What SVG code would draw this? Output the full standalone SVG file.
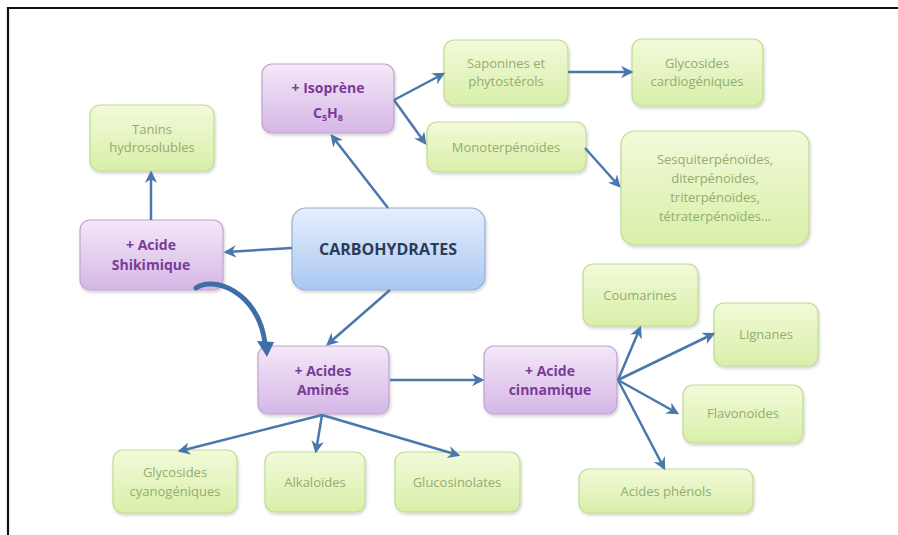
<svg xmlns="http://www.w3.org/2000/svg" width="898" height="535" viewBox="0 0 898 535">
<defs>
<linearGradient id="gG" x1="0" y1="0" x2="0" y2="1"><stop offset="0" stop-color="#f2fad9"/><stop offset="1" stop-color="#d9efa9"/></linearGradient>
<linearGradient id="gP" x1="0" y1="0" x2="0" y2="1"><stop offset="0" stop-color="#f4e8f8"/><stop offset="1" stop-color="#d5b7e6"/></linearGradient>
<linearGradient id="gB" x1="0" y1="0" x2="0" y2="1"><stop offset="0" stop-color="#e6effc"/><stop offset="1" stop-color="#a9c7f1"/></linearGradient>
<marker id="ah" viewBox="0 0 10 10" refX="8" refY="5" markerWidth="5" markerHeight="5" orient="auto" markerUnits="strokeWidth"><path d="M0,0 L10,5 L0,10 L3,5 Z" fill="#4a78ad"/></marker>
<filter id="sh" x="-10%" y="-10%" width="125%" height="130%"><feDropShadow dx="1" dy="2" stdDeviation="1.5" flood-color="#000" flood-opacity="0.18"/></filter>
</defs>
<style>
.g{fill:url(#gG);stroke:#bfdc93;stroke-width:1.2;filter:url(#sh)}
.p{fill:url(#gP);stroke:#bfa3cf;stroke-width:1.2;filter:url(#sh)}
.b{fill:url(#gB);stroke:#93afd6;stroke-width:1.2;filter:url(#sh)}
.tg{font-family:"Open Sans","Liberation Sans",sans-serif;font-size:13px;fill:#93ad70;text-anchor:middle}
.tp{font-family:"Open Sans","Liberation Sans",sans-serif;font-size:14px;font-weight:bold;fill:#7a3b98;text-anchor:middle}
.tb{font-family:"Open Sans","Liberation Sans",sans-serif;font-size:16px;font-weight:bold;fill:#2c3b57;text-anchor:middle}
.c{fill:none;stroke:#4a78ad;stroke-width:2.5;marker-end:url(#ah)}
</style>
<rect width="898" height="535" fill="#fff"/>
<path d="M8,535 V8 H898" fill="none" stroke="#111" stroke-width="2.2"/>

<g id="isoprene"><rect class="p" x="262" y="64" width="132" height="69" rx="10"/>
<text class="tp" x="328" y="93">+ Isoprène</text>
<text class="tp" x="328" y="118">C<tspan font-size="9" dy="3">5</tspan><tspan dy="-3">H</tspan><tspan font-size="9" dy="3">8</tspan></text></g>

<g id="saponines"><rect class="g" x="444" y="40" width="124" height="65" rx="10"/>
<text class="tg" x="506" y="68">Saponines et</text><text class="tg" x="506" y="86">phytostérols</text></g>

<g id="glycosides-cardio"><rect class="g" x="632" y="39" width="131" height="67" rx="10"/>
<text class="tg" x="697" y="68">Glycosides</text><text class="tg" x="697" y="86">cardiogéniques</text></g>

<g id="monoterpenoides"><rect class="g" x="427" y="122" width="159" height="50" rx="10"/>
<text class="tg" x="506" y="152">Monoterpénoïdes</text></g>

<g id="sesqui"><rect class="g" x="621" y="131" width="188" height="114" rx="14"/>
<text class="tg" x="715" y="164">Sesquiterpénoïdes,</text>
<text class="tg" x="715" y="183">diterpénoïdes,</text>
<text class="tg" x="715" y="202">triterpénoïdes,</text>
<text class="tg" x="715" y="221">tétraterpénoïdes…</text></g>

<g id="tanins"><rect class="g" x="90" y="105" width="124" height="66" rx="10"/>
<text class="tg" x="152" y="134">Tanins</text><text class="tg" x="152" y="152">hydrosolubles</text></g>

<g id="shikimique"><rect class="p" x="80" y="220" width="143" height="70" rx="10"/>
<text class="tp" x="151" y="250">+ Acide</text><text class="tp" x="151" y="270">Shikimique</text></g>

<g id="carbohydrates"><rect class="b" x="292" y="208" width="193" height="82" rx="14"/>
<text class="tb" x="388" y="255">CARBOHYDRATES</text></g>

<g id="acides-amines"><rect class="p" x="258" y="346" width="131" height="68" rx="10"/>
<text class="tp" x="323" y="376">+ Acides</text><text class="tp" x="323" y="395">Aminés</text></g>

<g id="cinnamique"><rect class="p" x="484" y="346" width="133" height="68" rx="10"/>
<text class="tp" x="550" y="376">+ Acide</text><text class="tp" x="550" y="395">cinnamique</text></g>

<g id="coumarines"><rect class="g" x="583" y="264" width="115" height="62" rx="10"/>
<text class="tg" x="640" y="300">Coumarines</text></g>

<g id="lignanes"><rect class="g" x="714" y="303" width="104" height="63" rx="10"/>
<text class="tg" x="766" y="339">Lignanes</text></g>

<g id="flavonoides"><rect class="g" x="683" y="385" width="120" height="58" rx="10"/>
<text class="tg" x="743" y="418">Flavonoïdes</text></g>

<g id="acides-phenols"><rect class="g" x="579" y="469" width="174" height="44" rx="10"/>
<text class="tg" x="666" y="496">Acides phénols</text></g>

<g id="glycosides-cyano"><rect class="g" x="113" y="450" width="124" height="63" rx="10"/>
<text class="tg" x="175" y="477">Glycosides</text><text class="tg" x="175" y="496">cyanogéniques</text></g>

<g id="alkaloides"><rect class="g" x="265" y="452" width="100" height="60" rx="10"/>
<text class="tg" x="315" y="487">Alkaloïdes</text></g>

<g id="glucosinolates"><rect class="g" x="395" y="452" width="125" height="60" rx="10"/>
<text class="tg" x="457" y="487">Glucosinolates</text></g>

<g id="connectors">
<path class="c" d="M388,208 L332,136"/>
<path class="c" d="M292,248 L226,252"/>
<path class="c" d="M151,220 L151,173"/>
<path class="c" d="M390,290 L328,344"/>
<path class="c" d="M394,100 L443,74"/>
<path class="c" d="M394,100 L425,143"/>
<path class="c" d="M568,72 L631,72"/>
<path class="c" d="M585,148 L619,186"/>
<path class="c" d="M390,380 L482,380"/>
<path class="c" d="M322,415 L180,451"/>
<path class="c" d="M322,415 L316,451"/>
<path class="c" d="M322,415 L458,455"/>
<path class="c" d="M618,380 L640,328"/>
<path class="c" d="M618,380 L713,334"/>
<path class="c" d="M618,380 L677,413"/>
<path class="c" d="M618,380 L664,468"/>
<path d="M196,288 C212,276 258,290 265,343" fill="none" stroke="#3f6ea6" stroke-width="5" stroke-linecap="round"/>
<path d="M257,341 L274,342 L267,357 Z" fill="#3f6ea6"/>
</g>
</svg>
